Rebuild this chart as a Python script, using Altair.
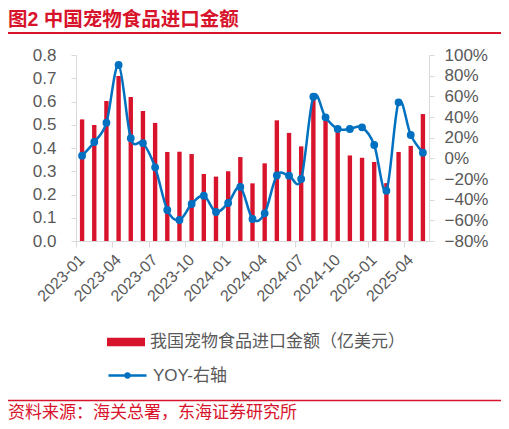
import altair as alt
import pandas as pd

months = ["2023-01", "2023-02", "2023-03", "2023-04", "2023-05", "2023-06",
          "2023-07", "2023-08", "2023-09", "2023-10", "2023-11", "2023-12",
          "2024-01", "2024-02", "2024-03", "2024-04", "2024-05", "2024-06",
          "2024-07", "2024-08", "2024-09", "2024-10", "2024-11", "2024-12",
          "2025-01", "2025-02", "2025-03", "2025-04", "2025-05"]
amounts = [0.523, 0.499, 0.602, 0.710, 0.619, 0.559, 0.508, 0.383, 0.384, 0.374,
           0.288, 0.277, 0.300, 0.361, 0.248, 0.334, 0.519, 0.465, 0.407, 0.620,
           0.530, 0.480, 0.368, 0.358, 0.340, 0.249, 0.383, 0.409, 0.546]
yoy_pct = [2.6, 15.8, 34.5, 90.3, 19.4, 14.8, -8.7, -50.0, -59.7, -44.2,
           -36.1, -51.9, -43.2, -27.7, -58.7, -53.2, -16.5, -16.8, -20.0, 59.7,
           39.7, 28.4, 28.4, 30.0, 12.9, -31.3, 54.2, 22.6, 5.5]
tick_months = ["2023-01", "2023-04", "2023-07", "2023-10", "2024-01",
               "2024-04", "2024-07", "2024-10", "2025-01", "2025-04"]
left_ticks = [0.0, 0.1, 0.2, 0.3, 0.4, 0.5, 0.6, 0.7, 0.8]
right_ticks = [-0.8, -0.6, -0.4, -0.2, 0.0, 0.2, 0.4, 0.6, 0.8, 1.0]

bar_name = "我国宠物食品进口金额（亿美元）"
line_name = "YOY-右轴"
title_text = "图2  中国宠物食品进口金额"
source_text = "资料来源：海关总署，东海证券研究所"

RED = "#D8142C"
BLUE = "#0070C0"
GRAY = "#595959"
AXIS_GRAY = "#D9D9D9"
FONT = "Liberation Sans, Arial, Noto Sans CJK SC"

df = pd.DataFrame({
    "month": months,
    "amount": amounts,
    "yoy": [v / 100 for v in yoy_pct],
    "s1": [bar_name] * len(months),
    "s2": [line_name] * len(months),
})

W, H = 353, 186

x_enc = alt.X(
    "month:N", sort=months,
    scale=alt.Scale(paddingInner=0, paddingOuter=0),
    axis=alt.Axis(values=tick_months, title=None, labelAngle=-45,
                  labelAlign="right", labelBaseline="middle", bandPosition=0,
                  tickSize=6, labelPadding=10, domainColor=AXIS_GRAY,
                  tickColor=AXIS_GRAY, labelColor=GRAY, labelFontSize=16,
                  labelFont=FONT),
)

bars = alt.Chart(df).mark_bar(width=alt.RelativeBandSize(0.36)).encode(
    x=x_enc,
    y=alt.Y("amount:Q", scale=alt.Scale(domain=[0, 0.8], nice=False),
            axis=alt.Axis(orient="left", values=left_ticks, format=".1f",
                          grid=False, title=None, tickSize=5, labelPadding=15,
                          domainColor=AXIS_GRAY, tickColor=AXIS_GRAY,
                          labelColor=GRAY, labelFontSize=17, labelFont=FONT)),
    fill=alt.Fill("s1:N", scale=alt.Scale(range=[RED]),
                  legend=alt.Legend(title=None, orient="none", legendX=31,
                                    legendY=268,
                                    symbolType="M-1,-0.23H1V0.23H-1Z",
                                    symbolSize=1444, symbolStrokeWidth=0,
                                    labelFontSize=17, labelColor=GRAY,
                                    labelFont=FONT, labelOffset=5,
                                    labelLimit=400)),
)

line = alt.Chart(df).mark_line(
    interpolate="cardinal", strokeWidth=2.5,
    point=alt.OverlayMarkDef(filled=True, fill=BLUE, size=34),
).encode(
    x=x_enc,
    y=alt.Y("yoy:Q", scale=alt.Scale(domain=[-0.8, 1.0], nice=False),
            axis=alt.Axis(orient="right", values=right_ticks, format=".0%",
                          grid=False, title=None, tickSize=5, labelPadding=10,
                          domainColor=AXIS_GRAY, tickColor=AXIS_GRAY,
                          labelColor=GRAY, labelFontSize=17, labelFont=FONT)),
    stroke=alt.Stroke("s2:N", scale=alt.Scale(range=[BLUE]),
                      legend=alt.Legend(title=None, orient="none", legendX=31,
                                        legendY=300,
                                        symbolType="M-1,0H1M-0.1,0A0.1,0.1 0 1,1 0.1,0A0.1,0.1 0 1,1 -0.1,0Z",
                                        symbolSize=1444, symbolStrokeWidth=2.5,
                                        symbolFillColor=BLUE,
                                        labelFontSize=17, labelColor=GRAY,
                                        labelFont=FONT, labelOffset=5,
                                        labelLimit=400)),
)

one = pd.DataFrame({"t": [title_text]})
src = pd.DataFrame({"t": [source_text]})

title_mark = alt.Chart(one).mark_text(
    align="left", baseline="alphabetic", fontSize=19.5, fontWeight="bold",
    color=RED, font=FONT,
).encode(text="t:N", x=alt.value(-68), y=alt.value(-29))

title_rule = alt.Chart(one).mark_rule(color=RED, strokeWidth=2).encode(
    x=alt.value(-68), x2=alt.value(429), y=alt.value(-22))

source_rule = alt.Chart(src).mark_rule(color=RED, strokeWidth=1.5).encode(
    x=alt.value(-68), x2=alt.value(429), y=alt.value(345.5))

source_mark = alt.Chart(src).mark_text(
    align="left", baseline="alphabetic", fontSize=17, color=RED, font=FONT,
).encode(text="t:N", x=alt.value(-68), y=alt.value(363))

chart = alt.layer(bars, line, title_mark, title_rule, source_rule, source_mark).resolve_scale(
    y="independent"
).properties(
    width=W, height=H,
    autosize=alt.AutoSizeParams(type="none"),
    padding={"left": 68, "top": 47, "right": 72, "bottom": 180},
).configure_view(stroke=None)

chart.save("out.html", embed_options={"renderer": "svg", "actions": False})
